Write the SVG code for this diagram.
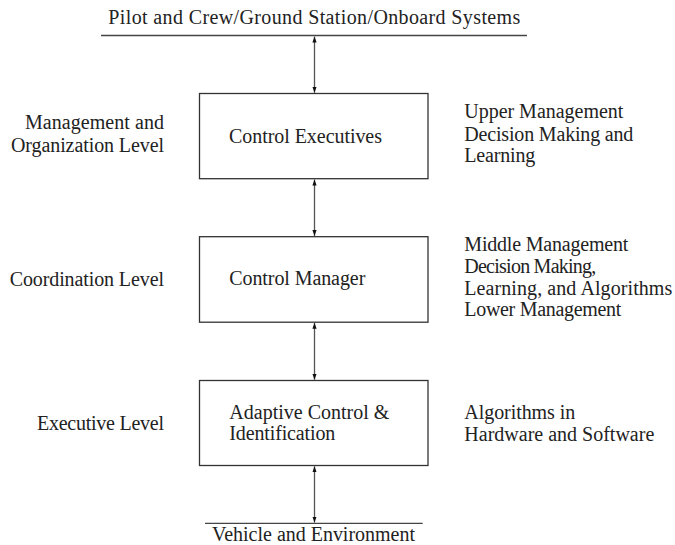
<svg xmlns="http://www.w3.org/2000/svg" width="675" height="545" viewBox="0 0 675 545">
<style>
text{font-family:"Liberation Serif","Times New Roman",serif;font-size:20px;fill:#222}
.box{fill:#fff;stroke:#333;stroke-width:1.3}
.rule{stroke:#444;stroke-width:1.3}
.arr{stroke:#555;stroke-width:1.3;fill:none;marker-start:url(#ah);marker-end:url(#ah)}
</style>
<defs>
<marker id="ah" viewBox="0 0 10 10" refX="10" refY="5" markerWidth="6" markerHeight="6" markerUnits="userSpaceOnUse" orient="auto-start-reverse">
<path d="M0,1.5 L10,5 L0,8.5 Z" fill="#111"/>
</marker>
</defs>
<g id="top-env">
<line class="rule" x1="101" y1="35.5" x2="527" y2="35.5"/>
<text x="108.3" y="24" textLength="412">Pilot and Crew/Ground Station/Onboard Systems</text>
</g>
<g id="bottom-env">
<line class="rule" x1="205" y1="523.3" x2="422.7" y2="523.3"/>
<text x="212" y="541" textLength="203">Vehicle and Environment</text>
</g>
<g id="connectors">
<line class="arr" x1="314.5" y1="36.5" x2="314.5" y2="92.8"/>
<line class="arr" x1="314.5" y1="179.5" x2="314.5" y2="236"/>
<line class="arr" x1="314.5" y1="322.8" x2="314.5" y2="379.8"/>
<line class="arr" x1="314.5" y1="466.3" x2="314.5" y2="522.6"/>
</g>
<g id="control-executives">
<rect class="box" x="199.5" y="93.5" width="228.5" height="85.2"/>
<text x="229" y="142.7" textLength="153">Control Executives</text>
</g>
<g id="control-manager">
<rect class="box" x="199.5" y="236.7" width="228.5" height="85.5"/>
<text x="229.3" y="285" textLength="136">Control Manager</text>
</g>
<g id="adaptive-control">
<rect class="box" x="199.5" y="380.5" width="228.5" height="85"/>
<text x="229.3" y="419" textLength="160">Adaptive Control &amp;</text>
<text x="229.3" y="440" textLength="106">Identification</text>
</g>
<g id="left-labels">
<text x="25" y="129.3" textLength="139">Management and</text>
<text x="11" y="151.7" textLength="153">Organization Level</text>
<text x="9.7" y="286" textLength="154.3">Coordination Level</text>
<text x="37" y="430" textLength="127">Executive Level</text>
</g>
<g id="right-labels">
<text x="464.3" y="118.3" textLength="159">Upper Management</text>
<text x="464.3" y="140.7" textLength="169">Decision Making and</text>
<text x="464.3" y="161.7" textLength="71">Learning</text>
<text x="464.3" y="250.7" textLength="164">Middle Management</text>
<text x="464.3" y="272.7" textLength="132">Decision Making,</text>
<text x="464.3" y="295" textLength="208">Learning, and Algorithms</text>
<text x="464.3" y="316" textLength="157">Lower Management</text>
<text x="464.3" y="419" textLength="111">Algorithms in</text>
<text x="464.3" y="440.7" textLength="190">Hardware and Software</text>
</g>
</svg>
